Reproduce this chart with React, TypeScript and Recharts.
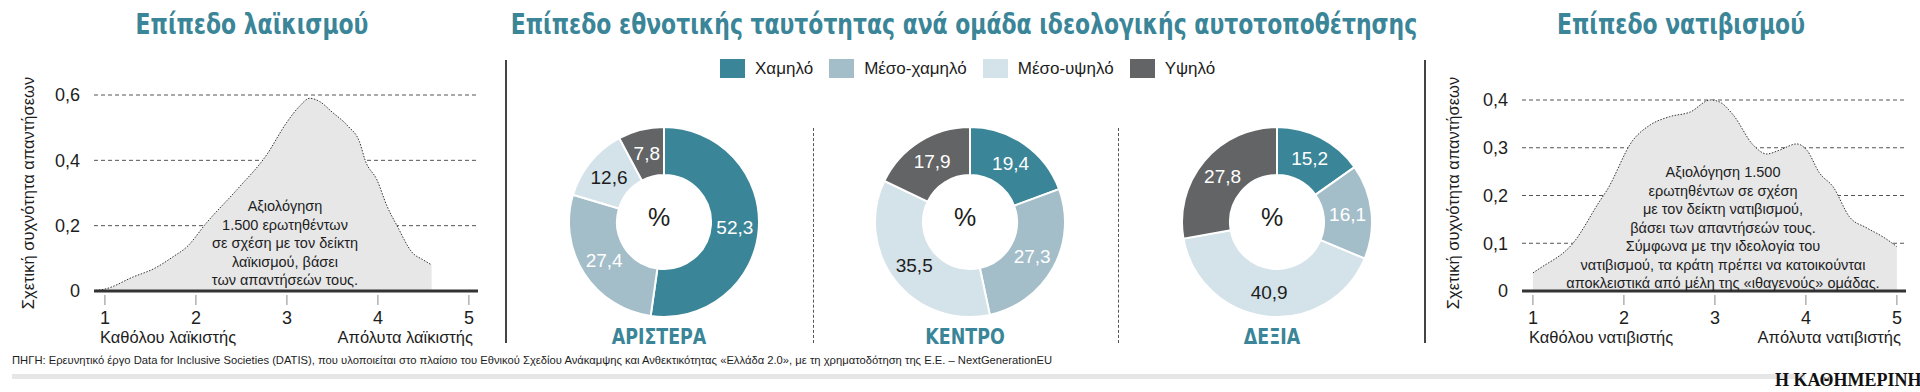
import { AreaChart, Area, XAxis, YAxis, CartesianGrid, PieChart, Pie, Cell } from "recharts"

const TEAL = "#3a8597"
const INK = "#1d1d1d"
const SANS = "'Liberation Sans', Arial, sans-serif"
const NARROW = "'Liberation Sans Narrow', 'DejaVu Sans Condensed', sans-serif"

// ideological groups and national identity levels (%)
const levels = ["Χαμηλό", "Μέσο-χαμηλό", "Μέσο-υψηλό", "Υψηλό"]
const levelColors = ["#3a8597", "#a3bdc9", "#d4e2e9", "#636466"]
const groups = ["ΑΡΙΣΤΕΡΑ", "ΚΕΝΤΡΟ", "ΔΕΞΙΑ"]
const leftShares = [52.3, 27.4, 12.6, 7.8]
const centreShares = [19.4, 27.3, 35.5, 17.9]
const rightShares = [15.2, 16.1, 40.9, 27.8]

// populism density
const populismX = [0.9, 1.0, 1.31, 1.55, 1.75, 1.9, 2.12, 2.45, 2.78, 3.0, 3.14, 3.25, 3.36, 3.5, 3.67, 3.8, 3.86, 3.99, 4.1, 4.21, 4.38, 4.5, 4.59]
const populismY = [0.002, 0.006, 0.043, 0.07, 0.105, 0.135, 0.21, 0.31, 0.418, 0.517, 0.566, 0.59, 0.58, 0.547, 0.505, 0.455, 0.4, 0.34, 0.26, 0.2, 0.117, 0.095, 0.08]
const populismTicks = [0, 0.2, 0.4, 0.6]

// nativism density
const nativismX = [1.0, 1.08, 1.44, 1.74, 1.81, 2.1, 2.29, 2.5, 2.73, 2.95, 3.05, 3.2, 3.42, 3.57, 3.71, 3.9, 4.01, 4.15, 4.3, 4.48, 4.67, 4.85, 5.0]
const nativismY = [0.038, 0.048, 0.1, 0.19, 0.21, 0.316, 0.348, 0.365, 0.375, 0.4, 0.396, 0.369, 0.306, 0.287, 0.295, 0.308, 0.295, 0.247, 0.218, 0.155, 0.132, 0.113, 0.093]
const nativismTicks = [0, 0.1, 0.2, 0.3, 0.4]

const scaleTicks = [1, 2, 3, 4, 5]

const fmt = (v: number) => String(v).replace(".", ",")

const XTick = (props: any) => {
  const { x, y, payload } = props
  return (
    <g>
      <line x1={x} x2={x} y1={y + 4} y2={y + 14} stroke="#8a8a8a" strokeWidth={1} />
      <text x={x} y={y + 33} textAnchor="middle" fontSize={18} fontFamily={SANS} fill={INK}>
        {payload.value}
      </text>
    </g>
  )
}

function DensityChart({ xs, ys, yTicks, plotLeft, plotTop }: { xs: number[]; ys: number[]; yTicks: number[]; plotLeft: number; plotTop: number }) {
  const data = xs.map((x, i) => ({ x, y: ys[i] }))
  return (
    <div style={{ position: "absolute", left: plotLeft - 94, top: 0 }}>
      <AreaChart width={490} height={340} data={data} margin={{ top: plotTop, left: 34, right: 12, bottom: 19 }}>
        <CartesianGrid vertical={false} stroke="#555" strokeDasharray="4 3" />
        <XAxis
          dataKey="x"
          type="number"
          domain={[0.88, 5.1]}
          allowDataOverflow
          ticks={scaleTicks}
          height={30}
          tickSize={0}
          tickMargin={0}
          tickLine={false}
          axisLine={{ stroke: "#333", strokeWidth: 3 }}
          tick={XTick}
        />
        <YAxis
          type="number"
          domain={[0, yTicks[yTicks.length - 1]]}
          ticks={yTicks}
          width={60}
          tickSize={0}
          tickMargin={14}
          axisLine={false}
          tickLine={false}
          tickFormatter={fmt}
          tick={{ fontSize: 18, fill: INK, fontFamily: SANS }}
        />
        <Area
          type="monotone"
          dataKey="y"
          stroke="#333"
          strokeWidth={1}
          strokeDasharray="1.5 1.5"
          fill="#e7e7e8"
          fillOpacity={1}
          isAnimationActive={false}
        />
      </AreaChart>
    </div>
  )
}

const renderLabel = (props: any) => {
  const { cx, cy, midAngle, innerRadius, outerRadius, value, index } = props
  const r = (innerRadius + outerRadius) / 2
  const a = (-midAngle * Math.PI) / 180
  const x = cx + r * Math.cos(a)
  const y = cy + r * Math.sin(a)
  return (
    <text x={x} y={y} textAnchor="middle" dominantBaseline="central" fontSize={19} fontFamily={SANS} fill={index === 2 ? INK : "#fff"}>
      {fmt(value)}
    </text>
  )
}

function Donut({ shares, label, cx }: { shares: number[]; label: string; cx: number }) {
  const data = levels.map((name, i) => ({ name, value: shares[i] }))
  return (
    <>
      <div style={{ position: "absolute", left: cx - 120, top: 97 }}>
        <PieChart width={240} height={240}>
          <Pie
            data={data}
            dataKey="value"
            cx={120}
            cy={120}
            innerRadius={47}
            outerRadius={95}
            startAngle={90}
            endAngle={-270}
            stroke="#fff"
            strokeWidth={2}
            label={renderLabel}
            labelLine={false}
            isAnimationActive={false}
          >
            {data.map((d, i) => (
              <Cell key={d.name} fill={levelColors[i]} />
            ))}
          </Pie>
        </PieChart>
      </div>
      <div style={{ position: "absolute", left: cx - 30, top: 203, width: 60, textAlign: "center", fontFamily: SANS, fontSize: 25, lineHeight: "28px", color: INK }}>%</div>
      <div style={{ position: "absolute", left: cx - 100, top: 324, width: 200, textAlign: "center", fontFamily: NARROW, fontWeight: 700, fontSize: 22, lineHeight: "26px", color: TEAL, transform: "scaleX(0.88)" }}>
        {label}
      </div>
    </>
  )
}

const Title = ({ text, cx }: { text: string; cx: number }) => (
  <div style={{ position: "absolute", left: cx - 600, top: 8, width: 1200, textAlign: "center", fontFamily: NARROW, fontWeight: 700, fontSize: 29, lineHeight: "32px", color: TEAL, whiteSpace: "nowrap", transform: "scaleX(0.84)" }}>
    {text}
  </div>
)

const YTitle = ({ cx }: { cx: number }) => (
  <div style={{ position: "absolute", left: cx, top: 193, transform: "translate(-50%, -50%) rotate(-90deg)", fontFamily: SANS, fontSize: 16.5, color: INK, whiteSpace: "nowrap" }}>
    Σχετική συχνότητα απαντήσεων
  </div>
)

const Note = ({ lines, cx, top }: { lines: string[]; cx: number; top: number }) => (
  <div style={{ position: "absolute", left: cx - 250, top, width: 500, textAlign: "center", fontFamily: SANS, fontSize: 14.5, lineHeight: "18.5px", color: INK }}>
    {lines.map((l) => (
      <div key={l}>{l}</div>
    ))}
  </div>
)

const EndLabel = ({ text, x, align }: { text: string; x: number; align: "left" | "right" }) => (
  <div
    style={{
      position: "absolute",
      top: 327,
      left: align === "left" ? x : x - 300,
      width: 300,
      textAlign: align,
      fontFamily: SANS,
      fontSize: 16.5,
      lineHeight: "20px",
      color: INK,
      whiteSpace: "nowrap",
    }}
  >
    {text}
  </div>
)

export default function App() {
  return (
    <div style={{ position: "absolute", left: 0, top: 0, width: 1920, height: 392, background: "#fff", overflow: "hidden" }}>
      <Title text="Επίπεδο λαϊκισμού" cx={252} />
      <Title text="Επίπεδο εθνοτικής ταυτότητας ανά ομάδα ιδεολογικής αυτοτοποθέτησης" cx={964} />
      <Title text="Επίπεδο νατιβισμού" cx={1681} />

      {/* populism */}
      <DensityChart xs={populismX} ys={populismY} yTicks={populismTicks} plotLeft={94} plotTop={95} />
      <YTitle cx={28} />
      <Note lines={["Αξιολόγηση", "1.500 ερωτηθέντων", "σε σχέση με τον δείκτη", "λαϊκισμού, βάσει", "των απαντήσεών τους."]} cx={285} top={197} />
      <EndLabel text="Καθόλου λαϊκιστής" x={100} align="left" />
      <EndLabel text="Απόλυτα λαϊκιστής" x={473} align="right" />

      {/* separators */}
      <div style={{ position: "absolute", left: 505, top: 60, width: 2, height: 283, background: "#444" }} />
      <div style={{ position: "absolute", left: 1424, top: 60, width: 2, height: 283, background: "#444" }} />
      <div style={{ position: "absolute", left: 813, top: 128, height: 215, borderLeft: "1px dashed #555" }} />
      <div style={{ position: "absolute", left: 1118, top: 128, height: 215, borderLeft: "1px dashed #555" }} />

      {/* legend */}
      <div style={{ position: "absolute", left: 720, top: 59, display: "flex", alignItems: "center", height: 19 }}>
        {levels.map((l, i) => (
          <div key={l} style={{ display: "flex", alignItems: "center", marginRight: 16 }}>
            <div style={{ width: 25, height: 19, background: levelColors[i] }} />
            <span style={{ marginLeft: 10, fontFamily: SANS, fontSize: 17, color: INK, whiteSpace: "nowrap" }}>{l}</span>
          </div>
        ))}
      </div>

      <Donut shares={leftShares} label={groups[0]} cx={659} />
      <Donut shares={centreShares} label={groups[1]} cx={965} />
      <Donut shares={rightShares} label={groups[2]} cx={1272} />

      {/* nativism */}
      <DensityChart xs={nativismX} ys={nativismY} yTicks={nativismTicks} plotLeft={1522} plotTop={100} />
      <YTitle cx={1453} />
      <Note
        lines={[
          "Αξιολόγηση 1.500",
          "ερωτηθέντων σε σχέση",
          "με τον δείκτη νατιβισμού,",
          "βάσει των απαντήσεών τους.",
          "Σύμφωνα με την ιδεολογία του",
          "νατιβισμού, τα κράτη πρέπει να κατοικούνται",
          "αποκλειστικά από μέλη της «ιθαγενούς» ομάδας.",
        ]}
        cx={1723}
        top={163}
      />
      <EndLabel text="Καθόλου νατιβιστής" x={1529} align="left" />
      <EndLabel text="Απόλυτα νατιβιστής" x={1901} align="right" />

      {/* footer */}
      <svg style={{ position: "absolute", left: 0, top: 350 }} width={1100} height={20}>
        <text x={12} y={14} fontFamily={SANS} fontSize={11} fill={INK} textLength={1040} lengthAdjust="spacingAndGlyphs">
          ΠΗΓΗ: Ερευνητικό έργο Data for Inclusive Societies (DATIS), που υλοποιείται στο πλαίσιο του Εθνικού Σχεδίου Ανάκαμψης και Ανθεκτικότητας «Ελλάδα 2.0», με τη χρηματοδότηση της Ε.Ε. – NextGenerationEU
        </text>
      </svg>
      <div style={{ position: "absolute", left: 12, top: 374, width: 1793, height: 5, background: "#e6e6e6" }} />
      <div style={{ position: "absolute", left: 1775, top: 370, fontFamily: "'Liberation Serif', serif", fontWeight: 700, fontSize: 18, lineHeight: "21px", color: "#111", whiteSpace: "nowrap" }}>
        Η ΚΑΘΗΜΕΡΙΝΗ
      </div>
    </div>
  )
}
